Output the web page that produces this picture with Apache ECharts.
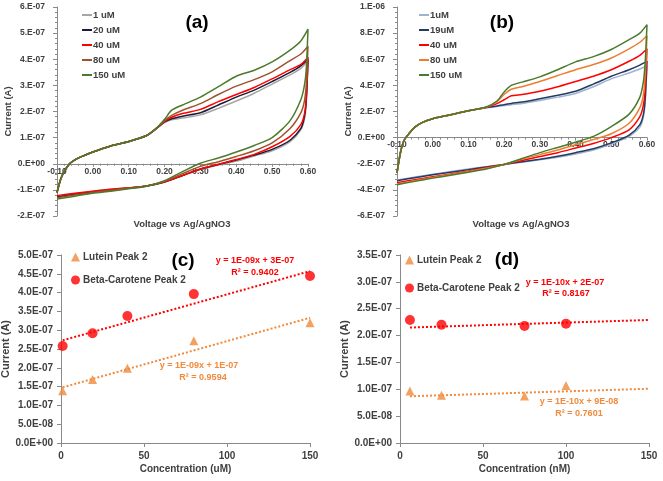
<!DOCTYPE html>
<html>
<head>
<meta charset="utf-8">
<script src="https://cdn.jsdelivr.net/npm/echarts@6/dist/echarts.min.js"></script>
<style>html,body{margin:0;padding:0;background:#fff}#main{width:663px;height:481px}</style>
</head>
<body>
<div id="main"></div>
<script>
// CV sweeps: forward (-0.1 -> 0.6) and reverse (0.6 -> -0.1), current in units of 1e-7 A
const fwdV = [-0.1, -0.09, -0.08, -0.065, -0.05, -0.03, 0, 0.05, 0.1, 0.15, 0.18, 0.2, 0.22, 0.25, 0.3, 0.35, 0.4, 0.45, 0.5, 0.55, 0.58, 0.6]
const revV = [0.6, 0.595, 0.59, 0.58, 0.55, 0.5, 0.45, 0.4, 0.35, 0.3, 0.25, 0.2, 0.15, 0.1, 0.05, 0, -0.05, -0.1]

// panel (a)
const aNames = ['1 uM', '20 uM', '40 uM', '80 uM', '150 uM']
const aColors = ['#a6a6a6', '#1c1c38', '#ff0000', '#a0522d', '#4e7a2b']
const aForward = [
  [-1.1, -0.6, -0.3, 0, 0.15, 0.28, 0.45, 0.68, 0.85, 1.08, 1.38, 1.58, 1.68, 1.75, 1.87, 2.12, 2.4, 2.7, 3.05, 3.4, 3.65, 3.95],
  [-1.1, -0.6, -0.3, 0, 0.15, 0.28, 0.45, 0.68, 0.85, 1.08, 1.38, 1.6, 1.72, 1.82, 1.95, 2.25, 2.55, 2.82, 3.15, 3.5, 3.75, 4.0],
  [-1.1, -0.6, -0.3, 0, 0.15, 0.28, 0.45, 0.68, 0.85, 1.08, 1.38, 1.62, 1.78, 1.92, 2.08, 2.38, 2.65, 2.92, 3.25, 3.6, 3.8, 4.08],
  [-1.1, -0.6, -0.3, 0, 0.15, 0.28, 0.45, 0.68, 0.85, 1.08, 1.38, 1.65, 1.85, 2.05, 2.3, 2.65, 2.97, 3.22, 3.52, 3.95, 4.2, 4.5],
  [-1.1, -0.6, -0.3, 0, 0.15, 0.28, 0.45, 0.68, 0.85, 1.08, 1.4, 1.7, 2.05, 2.25, 2.55, 2.95, 3.35, 3.58, 3.9, 4.35, 4.7, 5.15]
]
const aReverse = [
  [3.95, 2.3, 1.7, 1.3, 0.85, 0.5, 0.3, 0.1, -0.05, -0.22, -0.45, -0.7, -0.85, -0.92, -0.98, -1.05, -1.15, -1.25],
  [4.0, 2.4, 1.8, 1.35, 0.9, 0.55, 0.33, 0.14, -0.03, -0.2, -0.45, -0.7, -0.85, -0.93, -1.0, -1.07, -1.17, -1.27],
  [4.08, 2.5, 1.9, 1.5, 1.05, 0.65, 0.36, 0.16, -0.02, -0.2, -0.45, -0.7, -0.85, -0.92, -0.98, -1.05, -1.13, -1.22],
  [4.5, 3.0, 2.4, 1.95, 1.35, 0.8, 0.5, 0.28, 0.08, -0.1, -0.38, -0.67, -0.85, -0.94, -1.02, -1.1, -1.2, -1.3],
  [5.15, 3.6, 3.0, 2.45, 1.65, 1.0, 0.7, 0.45, 0.22, 0.02, -0.3, -0.65, -0.86, -0.96, -1.05, -1.13, -1.24, -1.35]
]

// panel (b)
const bNames = ['1uM', '19uM', '40 uM', '80 uM', '150 uM']
const bColors = ['#9db3d3', '#243a5e', '#ff0000', '#ed7d31', '#4a7a2c']
const bForward = [
  [-2.7, -1.1, -0.2, 0.35, 0.8, 1.15, 1.45, 1.75, 2.05, 2.28, 2.38, 2.45, 2.52, 2.62, 2.85, 3.1, 3.38, 3.9, 4.5, 4.95, 5.25, 5.5],
  [-2.7, -1.1, -0.2, 0.35, 0.8, 1.15, 1.45, 1.75, 2.05, 2.3, 2.42, 2.52, 2.62, 2.72, 2.98, 3.25, 3.55, 4.1, 4.7, 5.2, 5.55, 5.85],
  [-2.7, -1.1, -0.2, 0.35, 0.8, 1.15, 1.45, 1.75, 2.05, 2.32, 2.6, 2.9, 3.2, 3.3, 3.55, 3.9, 4.3, 4.7, 5.2, 5.85, 6.3, 6.8],
  [-2.7, -1.1, -0.2, 0.35, 0.8, 1.15, 1.45, 1.75, 2.05, 2.33, 2.75, 3.3, 3.7, 3.9, 4.3, 4.75, 5.2, 5.6, 6.1, 6.8, 7.3, 7.8],
  [-2.7, -1.1, -0.2, 0.35, 0.8, 1.15, 1.45, 1.75, 2.05, 2.35, 2.8, 3.5, 4.0, 4.25, 4.65, 5.2, 5.8, 6.2, 6.75, 7.5, 8.0, 8.65]
]
const bReverse = [
  [5.5, 2.8, 1.6, 0.8, 0.1, -0.5, -0.95, -1.25, -1.5, -1.7, -1.88, -2.05, -2.22, -2.4, -2.6, -2.8, -3.02, -3.25],
  [5.85, 3.0, 1.8, 1.0, 0.2, -0.4, -0.85, -1.15, -1.42, -1.65, -1.85, -2.05, -2.25, -2.45, -2.65, -2.85, -3.07, -3.3],
  [6.8, 3.8, 2.5, 1.6, 0.6, 0.0, -0.45, -0.8, -1.15, -1.45, -1.75, -2.05, -2.3, -2.55, -2.78, -3.0, -3.22, -3.45],
  [7.8, 4.8, 3.3, 2.3, 1.1, 0.3, -0.15, -0.55, -0.95, -1.3, -1.65, -2.05, -2.35, -2.6, -2.83, -3.05, -3.3, -3.55],
  [8.65, 5.8, 4.3, 3.1, 1.8, 0.85, 0.1, -0.35, -0.75, -1.15, -1.6, -2.05, -2.4, -2.65, -2.88, -3.1, -3.35, -3.6]
]

// panel (c) - uM
const cConc = [1, 19, 40, 80, 150]
const cLutein = [1.39e-7, 1.69e-7, 1.99e-7, 2.72e-7, 3.2e-7]
const cBeta = [2.58e-7, 2.92e-7, 3.38e-7, 3.96e-7, 4.44e-7]
const cTrendX = [1, 150]
const cLuteinTrend = [1.48e-7, 3.33e-7]
const cBetaTrend = [2.73e-7, 4.57e-7]

// panel (d) - nM
const dConc = [6, 25, 75, 100]
const dLutein = [0.97e-7, 0.89e-7, 0.875e-7, 1.07e-7]
const dBeta = [2.29e-7, 2.2e-7, 2.18e-7, 2.22e-7]
const dTrendX = [6, 150]
const dLuteinTrend = [0.87e-7, 1.01e-7]
const dBetaTrend = [2.15e-7, 2.29e-7]

const FONT = 'Liberation Sans'
const TXT = '#404040'
const AXC = '#898989'
const ORANGE = '#f08a3c'
const RED = '#ff0000'

function sci0(v) {
  if (Math.abs(v) < 1e-15) v = 0
  const p = v.toExponential(0).split('e')
  const e = parseInt(p[1])
  return p[0] + '.E' + (e < 0 ? '-' : '+') + String(Math.abs(e)).padStart(2, '0')
}
function sci1(v) {
  if (Math.abs(v) < 1e-15) v = 0
  const p = v.toExponential(1).split('e')
  const e = parseInt(p[1])
  return p[0] + 'E' + (e < 0 ? '-' : '+') + String(Math.abs(e)).padStart(2, '0')
}

function cvSeries(prefix, names, colors, fwd, rev, idx) {
  return names.map((n, i) => ({
    name: prefix + '|' + n,
    type: 'line',
    xAxisIndex: idx, yAxisIndex: idx,
    symbol: 'none',
    smooth: 0.25,
    lineStyle: {width: 1.5, color: colors[i]},
    itemStyle: {color: colors[i]},
    data: fwdV.map((v, k) => [v, fwd[i][k] * 1e-7]).concat(revV.map((v, k) => [v, rev[i][k] * 1e-7]))
  }))
}

function pairs(xs, ys) { return xs.map((x, i) => [x, ys[i]]) }

function scatterSeries(prefix, idx, conc, lut, beta, tx, lt, bt) {
  return [
    {name: prefix + '|Lutein Peak 2', type: 'scatter', xAxisIndex: idx, yAxisIndex: idx,
      symbol: 'triangle', symbolSize: 9, itemStyle: {color: ORANGE}, data: pairs(conc, lut)},
    {name: prefix + '|Beta-Carotene Peak 2', type: 'scatter', xAxisIndex: idx, yAxisIndex: idx,
      symbol: 'circle', symbolSize: 10, itemStyle: {color: RED}, data: pairs(conc, beta)},
    {type: 'line', xAxisIndex: idx, yAxisIndex: idx, symbol: 'none', silent: true,
      lineStyle: {type: 'dotted', width: 2, color: ORANGE}, data: pairs(tx, lt)},
    {type: 'line', xAxisIndex: idx, yAxisIndex: idx, symbol: 'none', silent: true,
      lineStyle: {type: 'dotted', width: 2, color: RED}, data: pairs(tx, bt)}
  ]
}

// x axis of the CV panels sits on the zero line: shift it up from the grid bottom
const cvX = (idx, offset) => ({
  type: 'value', gridIndex: idx, min: -0.1, max: 0.6, interval: 0.1,
  position: 'bottom', offset: offset,
  axisLine: {onZero: false, lineStyle: {color: AXC}},
  axisTick: {show: true, length: 3, lineStyle: {color: AXC}},
  minorTick: {show: true, splitNumber: 5, length: 2, lineStyle: {color: AXC}},
  splitLine: {show: false},
  axisLabel: {formatter: v => v.toFixed(2), color: TXT, fontFamily: FONT, fontWeight: 'bold', fontSize: 8.5, margin: 3}
})
const cvY = (idx, min, max, interval, gap) => ({
  type: 'value', gridIndex: idx, min: min, max: max, interval: interval,
  name: 'Current (A)', nameLocation: 'middle', nameGap: gap,
  nameTextStyle: {color: TXT, fontFamily: FONT, fontWeight: 'bold', fontSize: 9.5},
  axisLine: {show: true, onZero: false, lineStyle: {color: AXC}},
  axisTick: {show: true, length: 4, lineStyle: {color: AXC}},
  minorTick: {show: true, splitNumber: 5, length: 2, lineStyle: {color: AXC}},
  splitLine: {show: false},
  axisLabel: {formatter: sci0, color: TXT, fontFamily: FONT, fontWeight: 'bold', fontSize: 8.5, margin: 12}
})
const concX = (idx, name) => ({
  type: 'value', gridIndex: idx, min: 0, max: 150, interval: 50,
  name: name, nameLocation: 'middle', nameGap: 21,
  nameTextStyle: {color: TXT, fontFamily: FONT, fontWeight: 'bold', fontSize: 10},
  axisLine: {lineStyle: {color: AXC}},
  axisTick: {show: true, length: 4, lineStyle: {color: AXC}},
  splitLine: {show: false},
  axisLabel: {color: TXT, fontFamily: FONT, fontWeight: 'bold', fontSize: 10, margin: 8}
})
const concY = (idx, max, gap) => ({
  type: 'value', gridIndex: idx, min: 0, max: max, interval: 5e-8,
  name: 'Current (A)', nameLocation: 'middle', nameGap: gap,
  nameTextStyle: {color: TXT, fontFamily: FONT, fontWeight: 'bold', fontSize: 11},
  axisLine: {show: true, lineStyle: {color: AXC}},
  axisTick: {show: true, length: 4, lineStyle: {color: AXC}},
  splitLine: {show: false},
  axisLabel: {formatter: sci1, color: TXT, fontFamily: FONT, fontWeight: 'bold', fontSize: 10, margin: 8}
})

const legendFmt = name => name.split('|')[1]
const cvLegend = (prefix, names, left) => ({
  orient: 'vertical', left: left, top: 10, padding: 0, icon: 'rect', itemWidth: 10, itemHeight: 2, itemGap: 5,
  selectedMode: false, formatter: legendFmt,
  textStyle: {color: TXT, fontFamily: FONT, fontWeight: 'bold', fontSize: 9.5, padding: [0, 0, 0, -4]},
  data: names.map(n => prefix + '|' + n)
})
const scLegend = (prefix, left, top, gap) => ({
  orient: 'vertical', left: left, top: top, padding: 0, itemWidth: 9, itemHeight: 9, itemGap: gap,
  selectedMode: false, formatter: legendFmt,
  textStyle: {color: TXT, fontFamily: FONT, fontWeight: 'bold', fontSize: 10, padding: [0, 0, 0, -2]},
  data: [prefix + '|Lutein Peak 2', prefix + '|Beta-Carotene Peak 2']
})

const txt = (text, x, y, size, color) => ({
  type: 'text', x: x, y: y, silent: true,
  style: {text: text, fill: color, align: 'center', verticalAlign: 'middle',
    font: 'bold ' + size + 'px "' + FONT + '"'}
})

const option = {
  animation: false,
  backgroundColor: '#fff',
  grid: [
    {left: 57, top: 7, width: 251, height: 209, outerBoundsMode: 'none'},
    {left: 397, top: 7, width: 250, height: 209, outerBoundsMode: 'none'},
    {left: 61, top: 255, width: 249, height: 188, outerBoundsMode: 'none'},
    {left: 400, top: 255, width: 249, height: 188, outerBoundsMode: 'none'}
  ],
  xAxis: [cvX(0, -52.25), cvX(1, -78.4), concX(2, 'Concentration (uM)'), concX(3, 'Concentration (nM)')],
  yAxis: [cvY(0, -2e-7, 6e-7, 1e-7, 43), cvY(1, -6e-7, 1e-6, 2e-7, 42), concY(2, 5e-7, 40), concY(3, 3.5e-7, 41)],
  legend: [
    cvLegend('a', aNames, 82),
    cvLegend('b', bNames, 419),
    scLegend('c', 71, 252, 13),
    scLegend('d', 405, 255, 18)
  ],
  graphic: [
    txt('(a)', 197, 23, 19, '#000'),
    txt('(b)', 502, 23, 19, '#000'),
    txt('(c)', 183, 261, 19, '#000'),
    txt('(d)', 507, 260, 19, '#000'),
    txt('Voltage vs Ag/AgNO3', 182, 224, 9.5, TXT),
    txt('Voltage vs Ag/AgNO3', 521, 224, 9.5, TXT),
    txt('y = 1E-09x + 3E-07', 255, 261, 9, RED),
    txt('R² = 0.9402', 255, 273, 9, RED),
    txt('y = 1E-09x + 1E-07', 199, 366, 9, ORANGE),
    txt('R² = 0.9594', 203, 378, 9, ORANGE),
    txt('y = 1E-10x + 2E-07', 565, 283, 9, RED),
    txt('R² = 0.8167', 566, 294, 9, RED),
    txt('y = 1E-10x + 9E-08', 579, 402, 9, ORANGE),
    txt('R² = 0.7601', 579, 414, 9, ORANGE)
  ],
  series: [].concat(
    cvSeries('a', aNames, aColors, aForward, aReverse, 0),
    cvSeries('b', bNames, bColors, bForward, bReverse, 1),
    scatterSeries('c', 2, cConc, cLutein, cBeta, cTrendX, cLuteinTrend, cBetaTrend),
    scatterSeries('d', 3, dConc, dLutein, dBeta, dTrendX, dLuteinTrend, dBetaTrend)
  )
}

const chart = echarts.init(document.getElementById('main'))
chart.setOption(option)
</script>
</body>
</html>
